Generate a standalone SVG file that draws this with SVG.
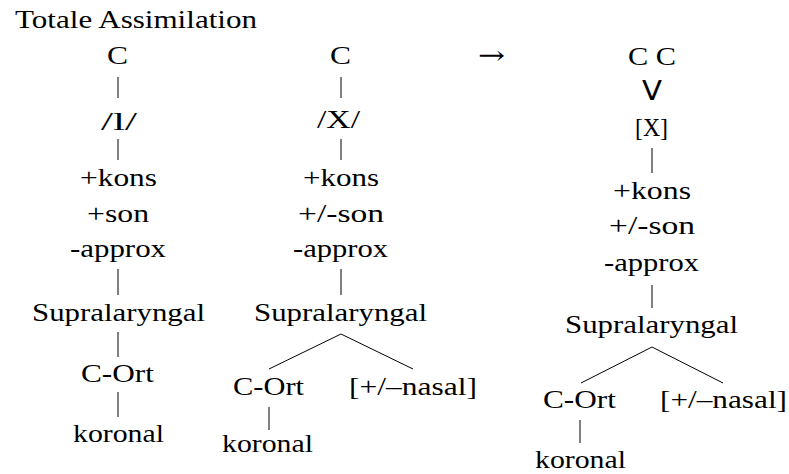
<svg xmlns="http://www.w3.org/2000/svg" width="789" height="474" viewBox="0 0 789 474">
<style>
text{font-size:26px;fill:#000;text-anchor:middle}
.t{text-anchor:start}
.c line{stroke:#000;stroke-width:1}
</style>
<rect width="789" height="474" fill="#fff"/>
<g font-family="Liberation Serif, serif">
<g id="title"><text class="t" x="15" y="28" textLength="242" lengthAdjust="spacingAndGlyphs">Totale Assimilation</text></g>
<g id="arrow"><text x="491.5" y="64" font-family="DejaVu Serif, serif" font-size="22" textLength="27" lengthAdjust="spacingAndGlyphs">→</text></g>

<!-- column 1 -->
<g id="c1-C"><text x="117.5" y="64" textLength="21" lengthAdjust="spacingAndGlyphs">C</text></g>
<g id="c1-l"><text x="119" y="130" textLength="36" lengthAdjust="spacingAndGlyphs">/l/</text></g>
<g id="c1-feat"><text x="118.5" y="186" textLength="77" lengthAdjust="spacingAndGlyphs">+kons</text>
<text x="118" y="222" textLength="62" lengthAdjust="spacingAndGlyphs">+son</text>
<text x="118" y="257" textLength="96" lengthAdjust="spacingAndGlyphs">-approx</text></g>
<g id="c1-supra"><text x="118.5" y="321" textLength="173" lengthAdjust="spacingAndGlyphs">Supralaryngal</text></g>
<g id="c1-cort"><text x="117.5" y="382" textLength="73" lengthAdjust="spacingAndGlyphs">C-Ort</text></g>
<g id="c1-kor"><text x="118.5" y="442" textLength="91" lengthAdjust="spacingAndGlyphs">koronal</text></g>

<!-- column 2 -->
<g id="c2-C"><text x="340.5" y="64" textLength="21" lengthAdjust="spacingAndGlyphs">C</text></g>
<g id="c2-X"><text x="338.5" y="128" textLength="43" lengthAdjust="spacingAndGlyphs">/X/</text></g>
<g id="c2-feat"><text x="341" y="186" textLength="76" lengthAdjust="spacingAndGlyphs">+kons</text>
<text x="341" y="222" textLength="86" lengthAdjust="spacingAndGlyphs">+/-son</text>
<text x="340.5" y="257" textLength="95" lengthAdjust="spacingAndGlyphs">-approx</text></g>
<g id="c2-supra"><text x="340.5" y="321" textLength="173" lengthAdjust="spacingAndGlyphs">Supralaryngal</text></g>
<g id="c2-cort"><text x="268.5" y="395" textLength="71" lengthAdjust="spacingAndGlyphs">C-Ort</text></g>
<g id="c2-nasal"><text x="413" y="395" textLength="128" lengthAdjust="spacingAndGlyphs">[+/–nasal]</text></g>
<g id="c2-kor"><text x="267.5" y="452" textLength="91" lengthAdjust="spacingAndGlyphs">koronal</text></g>

<!-- column 3 -->
<g id="c3-CC"><text x="652" y="65" textLength="48" lengthAdjust="spacingAndGlyphs">C C</text></g>
<g id="c3-V"><text x="652" y="100" font-family="DejaVu Sans, sans-serif" font-size="30" textLength="20" lengthAdjust="spacingAndGlyphs">V</text></g>
<g id="c3-X"><text x="651.5" y="136" textLength="33" lengthAdjust="spacingAndGlyphs">[X]</text></g>
<g id="c3-feat"><text x="652" y="199" textLength="78" lengthAdjust="spacingAndGlyphs">+kons</text>
<text x="652" y="234" textLength="86" lengthAdjust="spacingAndGlyphs">+/-son</text>
<text x="651.5" y="271" textLength="95" lengthAdjust="spacingAndGlyphs">-approx</text></g>
<g id="c3-supra"><text x="651.5" y="333" textLength="173" lengthAdjust="spacingAndGlyphs">Supralaryngal</text></g>
<g id="c3-cort"><text x="579.5" y="408" textLength="73" lengthAdjust="spacingAndGlyphs">C-Ort</text></g>
<g id="c3-nasal"><text x="723.5" y="408" textLength="127" lengthAdjust="spacingAndGlyphs">[+/–nasal]</text></g>
<g id="c3-kor"><text x="580.5" y="468" textLength="91" lengthAdjust="spacingAndGlyphs">koronal</text></g>
</g>

<g id="connectors" class="c">
<line x1="118" y1="77" x2="118" y2="98"/>
<line x1="118" y1="139" x2="118" y2="160"/>
<line x1="118" y1="269" x2="118" y2="295"/>
<line x1="118" y1="332" x2="118" y2="357"/>
<line x1="118" y1="392" x2="118" y2="417"/>
<line x1="341" y1="77" x2="341" y2="98"/>
<line x1="341" y1="139" x2="341" y2="160"/>
<line x1="341" y1="269" x2="341" y2="295"/>
<line x1="341" y1="334" x2="269" y2="369"/>
<line x1="341" y1="334" x2="413" y2="369"/>
<line x1="269" y1="407" x2="269" y2="430"/>
<line x1="652" y1="148" x2="652" y2="173"/>
<line x1="652" y1="285" x2="652" y2="308"/>
<line x1="652" y1="347" x2="581" y2="383"/>
<line x1="652" y1="347" x2="723" y2="383"/>
<line x1="580" y1="420" x2="580" y2="443"/>
</g>
</svg>
